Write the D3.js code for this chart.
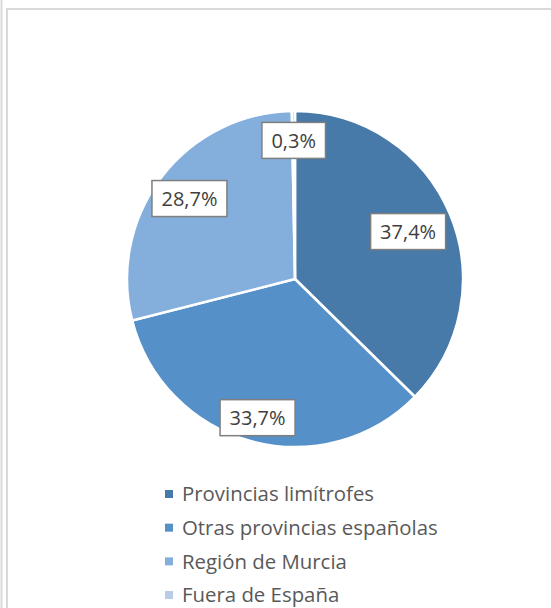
<!DOCTYPE html>
<html>
<head>
<meta charset="utf-8">
<script src="https://cdn.jsdelivr.net/npm/d3@7"></script>
<style>
  body { margin: 0; background: #fff; }
  svg { display: block; }
  text { font-family: "Open Sans", Lato, sans-serif; }
</style>
</head>
<body>
<div id="chart"></div>
<script>
// data
const categories = ["Provincias limítrofes", "Otras provincias españolas", "Región de Murcia", "Fuera de España"];
const values = [37.4, 33.7, 28.7, 0.3];
const labels = ["37,4%", "33,7%", "28,7%", "0,3%"];
const colors = ["#4779a9", "#5591c8", "#84afdc", "#b6cce8"];

// label distance from centre, as a share of the radius (Excel "best fit")
const labelR = [0.73, 0.855, 0.79, 0.825];

let width = 551, height = 608;
let cx = 295, cy = 279, r = 168;

let svg = d3.select("#chart").append("svg")
  .attr("width", width)
  .attr("height", height);

// frame lines of the chart area
svg.append("line").attr("x1", 1.5).attr("x2", 1.5).attr("y1", 0).attr("y2", height)
  .attr("stroke", "#d9d9d9").attr("stroke-width", 2);
svg.append("line").attr("x1", 7).attr("x2", 7).attr("y1", 8).attr("y2", height)
  .attr("stroke", "#d9d9d9").attr("stroke-width", 2);
svg.append("line").attr("x1", 6).attr("x2", width).attr("y1", 9).attr("y2", 9)
  .attr("stroke", "#d9d9d9").attr("stroke-width", 2);

let pie = d3.pie().sort(null).value(d => d)(values);
let arc = d3.arc().innerRadius(0).outerRadius(r);

let g = svg.append("g").attr("transform", "translate(" + cx + "," + cy + ")");

g.selectAll("path").data(pie).enter().append("path")
  .attr("d", arc)
  .attr("fill", (d, i) => colors[i])
  .attr("stroke", "#fff")
  .attr("stroke-width", 2.5)
  .attr("stroke-linejoin", "round");

// data labels
let lab = g.selectAll("g.lab").data(pie).enter().append("g")
  .attr("class", "lab")
  .attr("transform", (d, i) => {
    let a = (d.startAngle + d.endAngle) / 2;
    let rr = r * labelR[i];
    return "translate(" + (Math.sin(a) * rr) + "," + (-Math.cos(a) * rr) + ")";
  });

let labText = lab.append("text")
  .attr("text-anchor", "middle")
  .attr("dy", "0.36em")
  .attr("fill", "#404040")
  .style("font-size", "20px")
  .text((d, i) => labels[i]);

// Calibri is not here, so scale the font until "37,4%" is about 56px wide
let labSize = 20 * 56 / labText.nodes()[0].getComputedTextLength();
labText.style("font-size", labSize + "px");

lab.each(function () {
  let t = d3.select(this).select("text");
  let b = t.node().getBBox();
  let w = b.width + 19, h = 36;
  d3.select(this).insert("rect", "text")
    .attr("x", -w / 2).attr("y", -h / 2)
    .attr("width", w).attr("height", h)
    .attr("fill", "#fff")
    .attr("stroke", "#7f7f7f")
    .attr("stroke-width", 1.5);
});

// legend
let legendY = d3.scalePoint().domain(categories).range([494, 595]);

let leg = svg.selectAll("g.leg").data(categories).enter().append("g")
  .attr("class", "leg")
  .attr("transform", d => "translate(165," + legendY(d) + ")");

leg.append("rect")
  .attr("x", 0).attr("y", -4)
  .attr("width", 8).attr("height", 8)
  .attr("fill", (d, i) => colors[i]);

let legText = leg.append("text")
  .attr("x", 17)
  .attr("dy", "0.36em")
  .attr("fill", "#595959")
  .style("font-size", "18px")
  .text(d => d);

// same trick: longest entry is about 256px wide in the picture
let legSize = 18 * 256 / legText.nodes()[1].getComputedTextLength();
legText.style("font-size", legSize + "px");
</script>
</body>
</html>
